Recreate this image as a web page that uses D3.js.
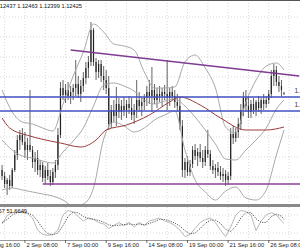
<!DOCTYPE html>
<html>
<head>
<meta charset="utf-8">
<script src="https://cdn.jsdelivr.net/npm/d3@7"></script>
<style>
  body { margin: 0; background: #fff; }
  svg { display: block; }
</style>
</head>
<body>
<div id="chart"></div>
<script>
const WIDTH = 300;
const HEIGHT = 250;

//H4 candles, oldest first
const openPrices = [
  1.1090, 1.1078, 1.1062, 1.1070, 1.1058, 1.1090, 1.1120, 1.1150, 1.1160, 1.1146,
  1.1130, 1.1140, 1.1130, 1.1106, 1.1114, 1.1090, 1.1100, 1.1074, 1.1090, 1.1078,
  1.1066, 1.1086, 1.1100, 1.1160, 1.1254, 1.1240, 1.1250, 1.1238, 1.1246, 1.1254,
  1.1262, 1.1242, 1.1258, 1.1274, 1.1294, 1.1306, 1.1370, 1.1306, 1.1286, 1.1302,
  1.1278, 1.1270, 1.1254, 1.1182, 1.1210, 1.1198, 1.1222, 1.1206, 1.1218, 1.1210,
  1.1222, 1.1214, 1.1200, 1.1210, 1.1230, 1.1218, 1.1226, 1.1234, 1.1246, 1.1238,
  1.1250, 1.1230, 1.1242, 1.1238, 1.1246, 1.1242, 1.1234, 1.1246, 1.1238, 1.1226,
  1.1218, 1.1178, 1.1090, 1.1106, 1.1086, 1.1102, 1.1130, 1.1118, 1.1126, 1.1114,
  1.1106, 1.1130, 1.1122, 1.1098, 1.1090, 1.1094, 1.1086, 1.1078, 1.1082, 1.1070,
  1.1078, 1.1162, 1.1154, 1.1166, 1.1182, 1.1210, 1.1234, 1.1218, 1.1206, 1.1222,
  1.1210, 1.1226, 1.1214, 1.1230, 1.1222, 1.1230, 1.1242, 1.1278, 1.1290, 1.1266,
  1.1258, 1.12437
];
const highPrices = [
  1.1100, 1.1086, 1.1074, 1.1080, 1.1094, 1.1130, 1.1160, 1.1170, 1.1174, 1.1166,
  1.1154, 1.1250, 1.1138, 1.1126, 1.1130, 1.1110, 1.1106, 1.1098, 1.1104, 1.1090,
  1.1094, 1.1110, 1.1174, 1.1266, 1.1270, 1.1262, 1.1266, 1.1258, 1.1262, 1.1310,
  1.1278, 1.1270, 1.1286, 1.1306, 1.1318, 1.1386, 1.1374, 1.1314, 1.1310, 1.1310,
  1.1298, 1.1290, 1.1278, 1.1220, 1.1230, 1.1256, 1.1234, 1.1230, 1.1236, 1.1230,
  1.1238, 1.1234, 1.1222, 1.1270, 1.1246, 1.1234, 1.1242, 1.1258, 1.1270, 1.1296,
  1.1262, 1.1254, 1.1258, 1.1254, 1.1260, 1.1310, 1.1254, 1.1258, 1.1250, 1.1242,
  1.1236, 1.1190, 1.1114, 1.1118, 1.1110, 1.1138, 1.1142, 1.1134, 1.1142, 1.1130,
  1.1138, 1.1170, 1.1130, 1.1110, 1.1102, 1.1106, 1.1098, 1.1094, 1.1090, 1.1086,
  1.1174, 1.1178, 1.1174, 1.1194, 1.1222, 1.1246, 1.1250, 1.1238, 1.1230, 1.1234,
  1.1230, 1.1238, 1.1234, 1.1242, 1.1238, 1.1250, 1.1290, 1.1302, 1.1298, 1.1278,
  1.1270, 1.12463
];
const lowPrices = [
  1.1070, 1.1054, 1.1040, 1.1050, 1.1054, 1.1086, 1.1110, 1.1130, 1.1140, 1.1114,
  1.1110, 1.1126, 1.1094, 1.1086, 1.1080, 1.1076, 1.1066, 1.1062, 1.1070, 1.1058,
  1.1060, 1.1074, 1.1090, 1.1154, 1.1230, 1.1224, 1.1230, 1.1222, 1.1230, 1.1238,
  1.1234, 1.1226, 1.1246, 1.1262, 1.1274, 1.1298, 1.1298, 1.1270, 1.1274, 1.1266,
  1.1250, 1.1242, 1.1170, 1.1174, 1.1186, 1.1178, 1.1194, 1.1190, 1.1198, 1.1194,
  1.1202, 1.1190, 1.1182, 1.1194, 1.1206, 1.1198, 1.1210, 1.1218, 1.1222, 1.1206,
  1.1222, 1.1214, 1.1226, 1.1218, 1.1230, 1.1210, 1.1218, 1.1230, 1.1214, 1.1206,
  1.1170, 1.1076, 1.1074, 1.1078, 1.1078, 1.1094, 1.1110, 1.1098, 1.1106, 1.1094,
  1.1098, 1.1114, 1.1090, 1.1082, 1.1074, 1.1078, 1.1070, 1.1066, 1.1058, 1.1060,
  1.1070, 1.1142, 1.1146, 1.1154, 1.1170, 1.1198, 1.1206, 1.1194, 1.1194, 1.1202,
  1.1198, 1.1206, 1.1202, 1.1210, 1.1214, 1.1222, 1.1234, 1.1258, 1.1258, 1.1246,
  1.1238, 1.12399
];
const closePrices = [
  1.1078, 1.1062, 1.1070, 1.1058, 1.1090, 1.1120, 1.1150, 1.1160, 1.1146, 1.1130,
  1.1140, 1.1130, 1.1106, 1.1114, 1.1090, 1.1100, 1.1074, 1.1090, 1.1078, 1.1066,
  1.1086, 1.1100, 1.1160, 1.1254, 1.1240, 1.1250, 1.1238, 1.1246, 1.1254, 1.1262,
  1.1242, 1.1258, 1.1274, 1.1294, 1.1306, 1.1370, 1.1306, 1.1286, 1.1302, 1.1278,
  1.1270, 1.1254, 1.1182, 1.1210, 1.1198, 1.1222, 1.1206, 1.1218, 1.1210, 1.1222,
  1.1214, 1.1200, 1.1210, 1.1230, 1.1218, 1.1226, 1.1234, 1.1246, 1.1238, 1.1250,
  1.1230, 1.1242, 1.1238, 1.1246, 1.1242, 1.1234, 1.1246, 1.1238, 1.1226, 1.1218,
  1.1178, 1.1090, 1.1106, 1.1086, 1.1102, 1.1130, 1.1118, 1.1126, 1.1114, 1.1106,
  1.1130, 1.1122, 1.1098, 1.1090, 1.1094, 1.1086, 1.1078, 1.1082, 1.1070, 1.1078,
  1.1162, 1.1154, 1.1166, 1.1182, 1.1210, 1.1234, 1.1218, 1.1206, 1.1222, 1.1210,
  1.1226, 1.1214, 1.1230, 1.1222, 1.1230, 1.1242, 1.1278, 1.1290, 1.1266, 1.1258,
  1.1250, 1.12425
];

//bollinger bands every 4th bar
const bandBars = [0, 4, 8, 12, 16, 20, 24, 28, 32, 36, 40, 44, 48, 52, 56, 60, 64, 68, 72, 76, 80, 84, 88, 92, 96, 100, 104, 108, 111];
const bandUpper = [1.1250, 1.1206, 1.1186, 1.1182, 1.1174, 1.1168, 1.1222, 1.1278, 1.1326, 1.1382, 1.1366, 1.1342, 1.1338, 1.1330, 1.1286, 1.1254, 1.1254, 1.1256, 1.1306, 1.1320, 1.1294, 1.1254, 1.1176, 1.1164, 1.1226, 1.1270, 1.1298, 1.1304, 1.1290];
const bandMiddle = [1.1150, 1.1130, 1.1118, 1.1114, 1.1108, 1.1104, 1.1126, 1.1148, 1.1174, 1.1218, 1.1260, 1.1264, 1.1258, 1.1248, 1.1230, 1.1222, 1.1228, 1.1232, 1.1218, 1.1196, 1.1170, 1.1142, 1.1112, 1.1110, 1.1130, 1.1150, 1.1174, 1.1212, 1.1230];
const bandLower = [1.1050, 1.1054, 1.1050, 1.1046, 1.1042, 1.1038, 1.1030, 1.1018, 1.1022, 1.1054, 1.1152, 1.1186, 1.1178, 1.1166, 1.1174, 1.1190, 1.1200, 1.1208, 1.1130, 1.1070, 1.1046, 1.1030, 1.1048, 1.1056, 1.1034, 1.1030, 1.1050, 1.1120, 1.1170];

//slow moving average
const maBars = [0, 3, 11, 19, 23, 31, 37, 41, 49, 58, 66, 70, 78, 86, 96, 104, 111];
const maValues = [1.1194, 1.1174, 1.1158, 1.1148, 1.1144, 1.1136, 1.1150, 1.1170, 1.1180, 1.1200, 1.1226, 1.1236, 1.1220, 1.1194, 1.1170, 1.1170, 1.1176];

//stochastic (5,3,3) every 2nd bar
const stochBars = [0, 2, 4, 6, 8, 10, 12, 14, 16, 18, 20, 22, 24, 26, 28, 30, 32, 34, 36, 38, 40, 42, 44, 46, 48, 50, 52, 54, 56, 58, 60, 62, 64, 66, 68, 70, 72, 74, 76, 78, 80, 82, 84, 86, 88, 90, 92, 94, 96, 98, 100, 102, 104, 106, 108, 110, 111];
const stochMain = [50, 78, 88, 90, 88, 85, 70, 30, 15, 12, 15, 30, 80, 95, 90, 75, 60, 70, 65, 55, 50, 35, 45, 55, 45, 55, 40, 55, 45, 60, 65, 70, 60, 55, 45, 30, 8, 15, 35, 55, 65, 70, 55, 30, 8, 40, 80, 95, 92, 80, 28, 60, 80, 88, 80, 60, 52];
const stochSignal = [55, 65, 80, 88, 89, 87, 80, 60, 35, 18, 14, 20, 45, 75, 90, 87, 75, 68, 66, 62, 56, 47, 44, 46, 48, 50, 48, 50, 47, 52, 58, 65, 65, 60, 53, 43, 28, 17, 20, 35, 52, 63, 63, 52, 32, 25, 42, 70, 88, 88, 68, 55, 55, 75, 83, 76, 65];
const stochLevels = [20, 80];

//time scale
const timeTickBars = [-7, 9, 25, 41, 57, 73, 89, 105];
const timeLabels = ["31 Aug 16:00", "2 Sep 08:00", "7 Sep 00:00", "9 Sep 16:00", "14 Sep 08:00", "19 Sep 00:00", "21 Sep 16:00", "26 Sep 08:00"];
const gridPrices = [1.1396, 1.1356, 1.1316, 1.1276, 1.1236, 1.1196, 1.1156, 1.1116, 1.1076, 1.1036];

//objects drawn on the chart
const hLinePrices = [1.1236, 1.1208];
const supportPrice = 1.1062;
const supportStartBar = 16;
const trendBars = [27, 117];
const trendPrices = [1.1330, 1.1278];

const quoteText = "EURUSD,H4  1.12437 1.12463 1.12399 1.12425";
const stochText = "Stoch(5,3,3) 58.2257 51.6649";

let svg = d3
  .select("#chart")
  .append("svg")
  .attr("width", WIDTH)
  .attr("height", HEIGHT)
  .style("font-family", "'Liberation Sans', Arial, sans-serif");

svg.append("rect").attr("width", WIDTH).attr("height", HEIGHT).attr("fill", "#fff");

//scales
const x = d3.scaleLinear().domain([0, 111]).range([2.06, 284]);
const y = d3.scaleLinear().domain([1.1024, 1.1430]).range([203, 0]);
const ys = d3.scaleLinear().domain([0, 100]).range([239, 209]);

//clip areas for both windows
let defs = svg.append("defs");
defs.append("clipPath").attr("id", "mainClip")
  .append("rect").attr("x", 0).attr("y", 1).attr("width", WIDTH).attr("height", 203);
defs.append("clipPath").attr("id", "stochClip")
  .append("rect").attr("x", 0).attr("y", 207).attr("width", WIDTH).attr("height", 33);

let main = svg.append("g").attr("clip-path", "url(#mainClip)");
let sub = svg.append("g").attr("clip-path", "url(#stochClip)");

//vertical grid every half label
const gridBars = d3.range(timeTickBars[0], 125, 8);
[main, sub].forEach((g) => {
  g.selectAll("line.vgrid")
    .data(gridBars)
    .enter()
    .append("line")
    .attr("class", "vgrid")
    .attr("x1", (d) => x(d)).attr("x2", (d) => x(d))
    .attr("y1", 0).attr("y2", HEIGHT)
    .attr("stroke", "#cfcfcf")
    .attr("stroke-width", 0.8)
    .attr("stroke-dasharray", "1,2");
});
main.selectAll("line.hgrid")
  .data(gridPrices)
  .enter()
  .append("line")
  .attr("x1", 0).attr("x2", WIDTH)
  .attr("y1", (d) => y(d)).attr("y2", (d) => y(d))
  .attr("stroke", "#cfcfcf")
  .attr("stroke-width", 0.8)
  .attr("stroke-dasharray", "1,2");

//candles
let bars = openPrices.map((o, i) => ({
  i: i, o: o, h: highPrices[i], l: lowPrices[i], c: closePrices[i]
}));
let candle = main.append("g").selectAll("g").data(bars).enter().append("g");
candle.append("line")
  .attr("x1", (d) => x(d.i)).attr("x2", (d) => x(d.i))
  .attr("y1", (d) => y(d.h)).attr("y2", (d) => y(d.l))
  .attr("stroke", "#222")
  .attr("stroke-width", 0.7);
candle.append("rect")
  .attr("x", (d) => x(d.i) - 0.6)
  .attr("width", 1.2)
  .attr("y", (d) => y(Math.max(d.o, d.c)))
  .attr("height", (d) => Math.max(0.7, Math.abs(y(d.o) - y(d.c))))
  .attr("fill", "#222");

//bollinger bands
const bandLine = (vals) =>
  d3.line().x((d, k) => x(bandBars[k])).y((d) => y(d)).curve(d3.curveMonotoneX)(vals);
[bandUpper, bandMiddle, bandLower].forEach((vals) => {
  main.append("path")
    .attr("d", bandLine(vals))
    .attr("fill", "none")
    .attr("stroke", "#a9a9a9")
    .attr("stroke-width", 1);
});

//slow MA
main.append("path")
  .attr("d", d3.line().x((d, k) => x(maBars[k])).y((d) => y(d)).curve(d3.curveMonotoneX)(maValues))
  .attr("fill", "none")
  .attr("stroke", "#9a3c3c")
  .attr("stroke-width", 1);

//horizontal lines
main.selectAll("line.hl")
  .data(hLinePrices)
  .enter()
  .append("line")
  .attr("x1", 0).attr("x2", WIDTH)
  .attr("y1", (d) => y(d)).attr("y2", (d) => y(d))
  .attr("stroke", "#4152c4")
  .attr("stroke-width", 1.4);

//support line
main.append("line")
  .attr("x1", x(supportStartBar)).attr("x2", WIDTH)
  .attr("y1", y(supportPrice)).attr("y2", y(supportPrice))
  .attr("stroke", "#8c3f98")
  .attr("stroke-width", 1.4);

//trend line
main.append("line")
  .attr("x1", x(trendBars[0])).attr("y1", y(trendPrices[0]))
  .attr("x2", x(trendBars[1])).attr("y2", y(trendPrices[1]))
  .attr("stroke", "#7e3c92")
  .attr("stroke-width", 1.4);

//price labels of the lines, cut by the window edge
main.selectAll("text.pl")
  .data(hLinePrices)
  .enter()
  .append("text")
  .attr("x", 294.5)
  .attr("y", (d) => y(d) - 4)
  .attr("font-size", 6.5)
  .attr("fill", "#333")
  .text((d) => d3.format(".4f")(d));

//quote line at top
svg.append("rect").attr("x", 0).attr("y", 0).attr("width", WIDTH).attr("height", 1).attr("fill", "#555");
svg.append("text")
  .attr("x", 82).attr("y", 8)
  .attr("text-anchor", "end")
  .attr("font-size", 5.7)
  .attr("fill", "#111")
  .text(quoteText);

//window separator
svg.append("rect").attr("x", 0).attr("y", 204).attr("width", WIDTH).attr("height", 3).attr("fill", "#8a8a8a");

//stochastic window
sub.selectAll("line.lvl")
  .data(stochLevels)
  .enter()
  .append("line")
  .attr("x1", 0).attr("x2", WIDTH)
  .attr("y1", (d) => ys(d)).attr("y2", (d) => ys(d))
  .attr("stroke", "#cfcfcf")
  .attr("stroke-width", 0.8)
  .attr("stroke-dasharray", "1,2");

sub.append("path")
  .attr("d", d3.line().x((d, k) => x(stochBars[k])).y((d) => ys(d))(stochMain))
  .attr("fill", "none")
  .attr("stroke", "#b8b8b8")
  .attr("stroke-width", 1);
sub.append("path")
  .attr("d", d3.line().x((d, k) => x(stochBars[k])).y((d) => ys(d))(stochSignal))
  .attr("fill", "none")
  .attr("stroke", "#5a5a5a")
  .attr("stroke-width", 1)
  .attr("stroke-dasharray", "1.2,1.2");

svg.append("text")
  .attr("x", 27).attr("y", 213)
  .attr("text-anchor", "end")
  .attr("font-size", 5.7)
  .attr("fill", "#111")
  .text(stochText);

//time axis
svg.append("line")
  .attr("x1", 0).attr("x2", WIDTH)
  .attr("y1", 240.5).attr("y2", 240.5)
  .attr("stroke", "#999")
  .attr("stroke-width", 1);
let ticks = svg.append("g").selectAll("g").data(timeTickBars).enter().append("g");
ticks.append("line")
  .attr("x1", (d) => x(d)).attr("x2", (d) => x(d))
  .attr("y1", 240).attr("y2", 243)
  .attr("stroke", "#444")
  .attr("stroke-width", 0.8);
ticks.append("text")
  .attr("x", (d) => x(d) + 1.5)
  .attr("y", 246.5)
  .attr("font-size", 5.8)
  .attr("fill", "#222")
  .text((d, k) => timeLabels[k]);
</script>
</body>
</html>
